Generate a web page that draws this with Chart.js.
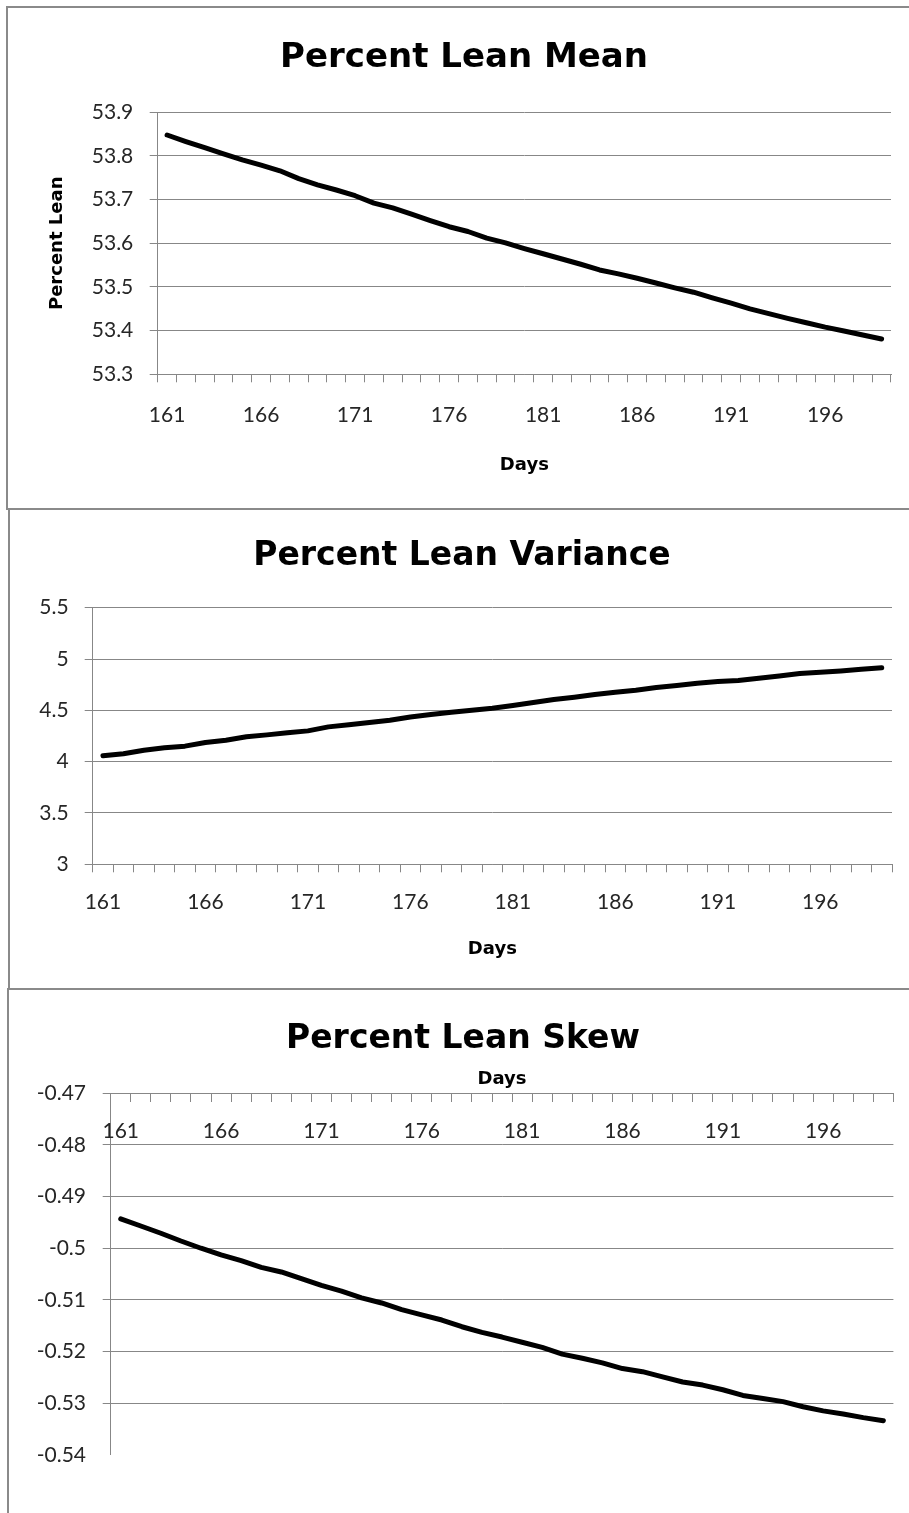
<!DOCTYPE html>
<html>
<head>
<meta charset="utf-8">
<title>Percent Lean</title>
<script src="https://cdn.jsdelivr.net/npm/chart.js@4/dist/chart.umd.min.js"></script>
<style>
  html, body { margin: 0; padding: 0; background: #fff; overflow: hidden; }
  body { width: 909px; height: 1513px; position: relative; }
  .box { position: absolute; box-sizing: border-box; border: 2px solid #8a8a8a; background: #fff; }
  .box canvas { display: block; }
</style>
</head>
<body>
<div class="box" style="left:6px;top:6px;width:940px;height:504px"><canvas id="meanChart" width="912" height="500"></canvas></div>
<div class="box" style="left:8px;top:508px;width:940px;height:483px"><canvas id="varianceChart" width="904" height="477"></canvas></div>
<div class="box" style="left:7px;top:988px;width:940px;height:540px"><canvas id="skewChart" width="908" height="523"></canvas></div>
<script>
// Days on the x axis and the ones that carry a label
const days = [161, 162, 163, 164, 165, 166, 167, 168, 169, 170, 171, 172, 173, 174, 175, 176, 177, 178, 179, 180,
              181, 182, 183, 184, 185, 186, 187, 188, 189, 190, 191, 192, 193, 194, 195, 196, 197, 198, 199];
const shownDays = [161, 166, 171, 176, 181, 186, 191, 196];

// Value-axis tick labels
const meanTicks = [53.3, 53.4, 53.5, 53.6, 53.7, 53.8, 53.9];
const varianceTicks = [3, 3.5, 4, 4.5, 5, 5.5];
const skewTicks = [-0.54, -0.53, -0.52, -0.51, -0.5, -0.49, -0.48, -0.47];

// Daily percent-lean statistics
const meanPct = [53.848, 53.833, 53.819, 53.805, 53.791, 53.779, 53.766, 53.748, 53.734, 53.722,
                 53.709, 53.692, 53.681, 53.667, 53.652, 53.638, 53.627, 53.612, 53.601, 53.588,
                 53.576, 53.564, 53.552, 53.539, 53.530, 53.520, 53.509, 53.498, 53.488, 53.475,
                 53.463, 53.450, 53.439, 53.428, 53.418, 53.408, 53.399, 53.390, 53.381];
const variancePct = [4.057, 4.077, 4.112, 4.135, 4.151, 4.187, 4.209, 4.242, 4.261, 4.281,
                     4.300, 4.339, 4.359, 4.381, 4.404, 4.436, 4.459, 4.482, 4.501, 4.521,
                     4.547, 4.576, 4.605, 4.628, 4.654, 4.676, 4.696, 4.722, 4.741, 4.764,
                     4.780, 4.790, 4.813, 4.835, 4.858, 4.871, 4.884, 4.900, 4.916];
const skewPct = [-0.4943, -0.4957, -0.4971, -0.4986, -0.5000, -0.5013, -0.5024, -0.5037, -0.5046, -0.5059,
                 -0.5072, -0.5083, -0.5096, -0.5106, -0.5119, -0.5129, -0.5139, -0.5152, -0.5163, -0.5172,
                 -0.5182, -0.5192, -0.5205, -0.5213, -0.5222, -0.5233, -0.5239, -0.5249, -0.5259, -0.5265,
                 -0.5274, -0.5285, -0.5291, -0.5297, -0.5307, -0.5315, -0.5321, -0.5328, -0.5334];

const GRID = '#878787';
const LABEL_COLOR = '#262626';
const TICK_FONT = { family: 'Lato', size: 21 };
const AXIS_TITLE_FONT = { family: 'DejaVu Sans', size: 18, weight: 'bold' };

const fixedWidth = w => s => { s.width = w; };
const fixedHeight = h => s => { s.height = h; };

function valueAxis(tickValues, width, labelPad, hiddenValue) {
  const lineColor = c => (c.tick && c.tick.value === hiddenValue) ? 'rgba(0,0,0,0)' : GRID;
  return {
    type: 'linear',
    position: 'left',
    min: Math.min(...tickValues),
    max: Math.max(...tickValues),
    afterBuildTicks: s => { s.ticks = tickValues.map(v => ({ value: v })); },
    afterFit: fixedWidth(width),
    grid: { color: lineColor, tickColor: lineColor, tickLength: 8, lineWidth: 1 },
    border: { display: true, color: GRID, width: 1 },
    ticks: { font: TICK_FONT, color: LABEL_COLOR, padding: labelPad, callback: v => String(v) }
  };
}

// Empty right-hand strip that keeps the plot narrower than the canvas
function spacerAxis(width) {
  return {
    type: 'linear',
    position: 'right',
    afterFit: fixedWidth(width),
    grid: { display: false },
    border: { display: false },
    ticks: { display: false }
  };
}

function dayAxis(position, height, labelPad) {
  return {
    type: 'category',
    position: position,
    offset: true,
    afterFit: fixedHeight(height),
    grid: { offset: true, drawOnChartArea: false, color: GRID, tickColor: GRID, tickLength: 8, lineWidth: 1 },
    border: { display: true, color: GRID, width: 1 },
    ticks: {
      autoSkip: false,
      maxRotation: 0,
      minRotation: 0,
      font: TICK_FONT,
      color: LABEL_COLOR,
      padding: labelPad,
      callback: function (v) {
        const d = this.getLabelForValue(v);
        return shownDays.includes(d) ? String(d) : '';
      }
    }
  };
}

function lineSet(values) {
  return {
    data: values,
    borderColor: '#000',
    borderWidth: 5,
    pointRadius: 0,
    fill: false,
    tension: 0,
    borderCapStyle: 'round',
    borderJoinStyle: 'round'
  };
}

function chartTitle(text, size, top, bottom) {
  return {
    display: true,
    text: text,
    color: '#000',
    font: { family: 'DejaVu Sans', size: size, weight: 'bold', lineHeight: 1.2 },
    padding: { top: top, bottom: bottom }
  };
}

const common = {
  responsive: false,
  devicePixelRatio: 1,
  animation: false,
  events: []
};

// Mean
const meanX = dayAxis('bottom', 133.7, 20.1);
meanX.title = { display: true, text: 'Days', color: '#000', font: AXIS_TITLE_FONT, padding: { top: 0, bottom: 32 } };
const meanY = valueAxis(meanTicks, 149.7, 16.4);
meanY.title = { display: true, text: 'Percent Lean', color: '#000', font: AXIS_TITLE_FONT, padding: { top: 38.2, bottom: 0 } };

new Chart(document.getElementById('meanChart'), {
  type: 'line',
  data: { labels: days, datasets: [lineSet(meanPct)] },
  options: Object.assign({}, common, {
    layout: { padding: 0 },
    plugins: {
      legend: { display: false },
      tooltip: { enabled: false },
      title: chartTitle('Percent Lean Mean', 34, 29.3, 34.2)
    },
    scales: { x: meanX, y: meanY, pad: spacerAxis(29) }
  })
});

// Variance
const varX = dayAxis('bottom', 122.7, 17.1);
varX.title = { display: true, text: 'Days', color: '#000', font: AXIS_TITLE_FONT, padding: { top: 0, bottom: 26.4 } };

new Chart(document.getElementById('varianceChart'), {
  type: 'line',
  data: { labels: days, datasets: [lineSet(variancePct)] },
  options: Object.assign({}, common, {
    layout: { padding: 0 },
    plugins: {
      legend: { display: false },
      tooltip: { enabled: false },
      title: chartTitle('Percent Lean Variance', 33, 26.4, 31.7)
    },
    scales: { x: varX, y: valueAxis(varianceTicks, 82.7, 16.1), pad: spacerAxis(22) }
  })
});

// Skew: the day axis crosses at the top value, so its labels sit inside the plot
const skewX = dayAxis({ y: skewTicks[skewTicks.length - 1] }, 1, 17.8);
const skewTitleAxis = {
  type: 'category',
  position: 'top',
  afterFit: fixedHeight(35.7),
  grid: { display: false },
  border: { display: false },
  ticks: { display: false },
  title: { display: true, text: 'Days', color: '#000', font: AXIS_TITLE_FONT, padding: { top: 11.1, bottom: 0 } }
};

new Chart(document.getElementById('skewChart'), {
  type: 'line',
  data: { labels: days, datasets: [lineSet(skewPct)] },
  options: Object.assign({}, common, {
    layout: { padding: { left: 0, right: 0, top: 0, bottom: 58.2 } },
    plugins: {
      legend: { display: false },
      tooltip: { enabled: false },
      title: chartTitle('Percent Lean Skew', 33, 30, -2)
    },
    scales: {
      y: valueAxis(skewTicks, 101.7, 16.7, skewTicks[0]),
      x: skewX,
      dayTitle: skewTitleAxis,
      pad: spacerAxis(23.6)
    }
  })
});
</script>
</body>
</html>
